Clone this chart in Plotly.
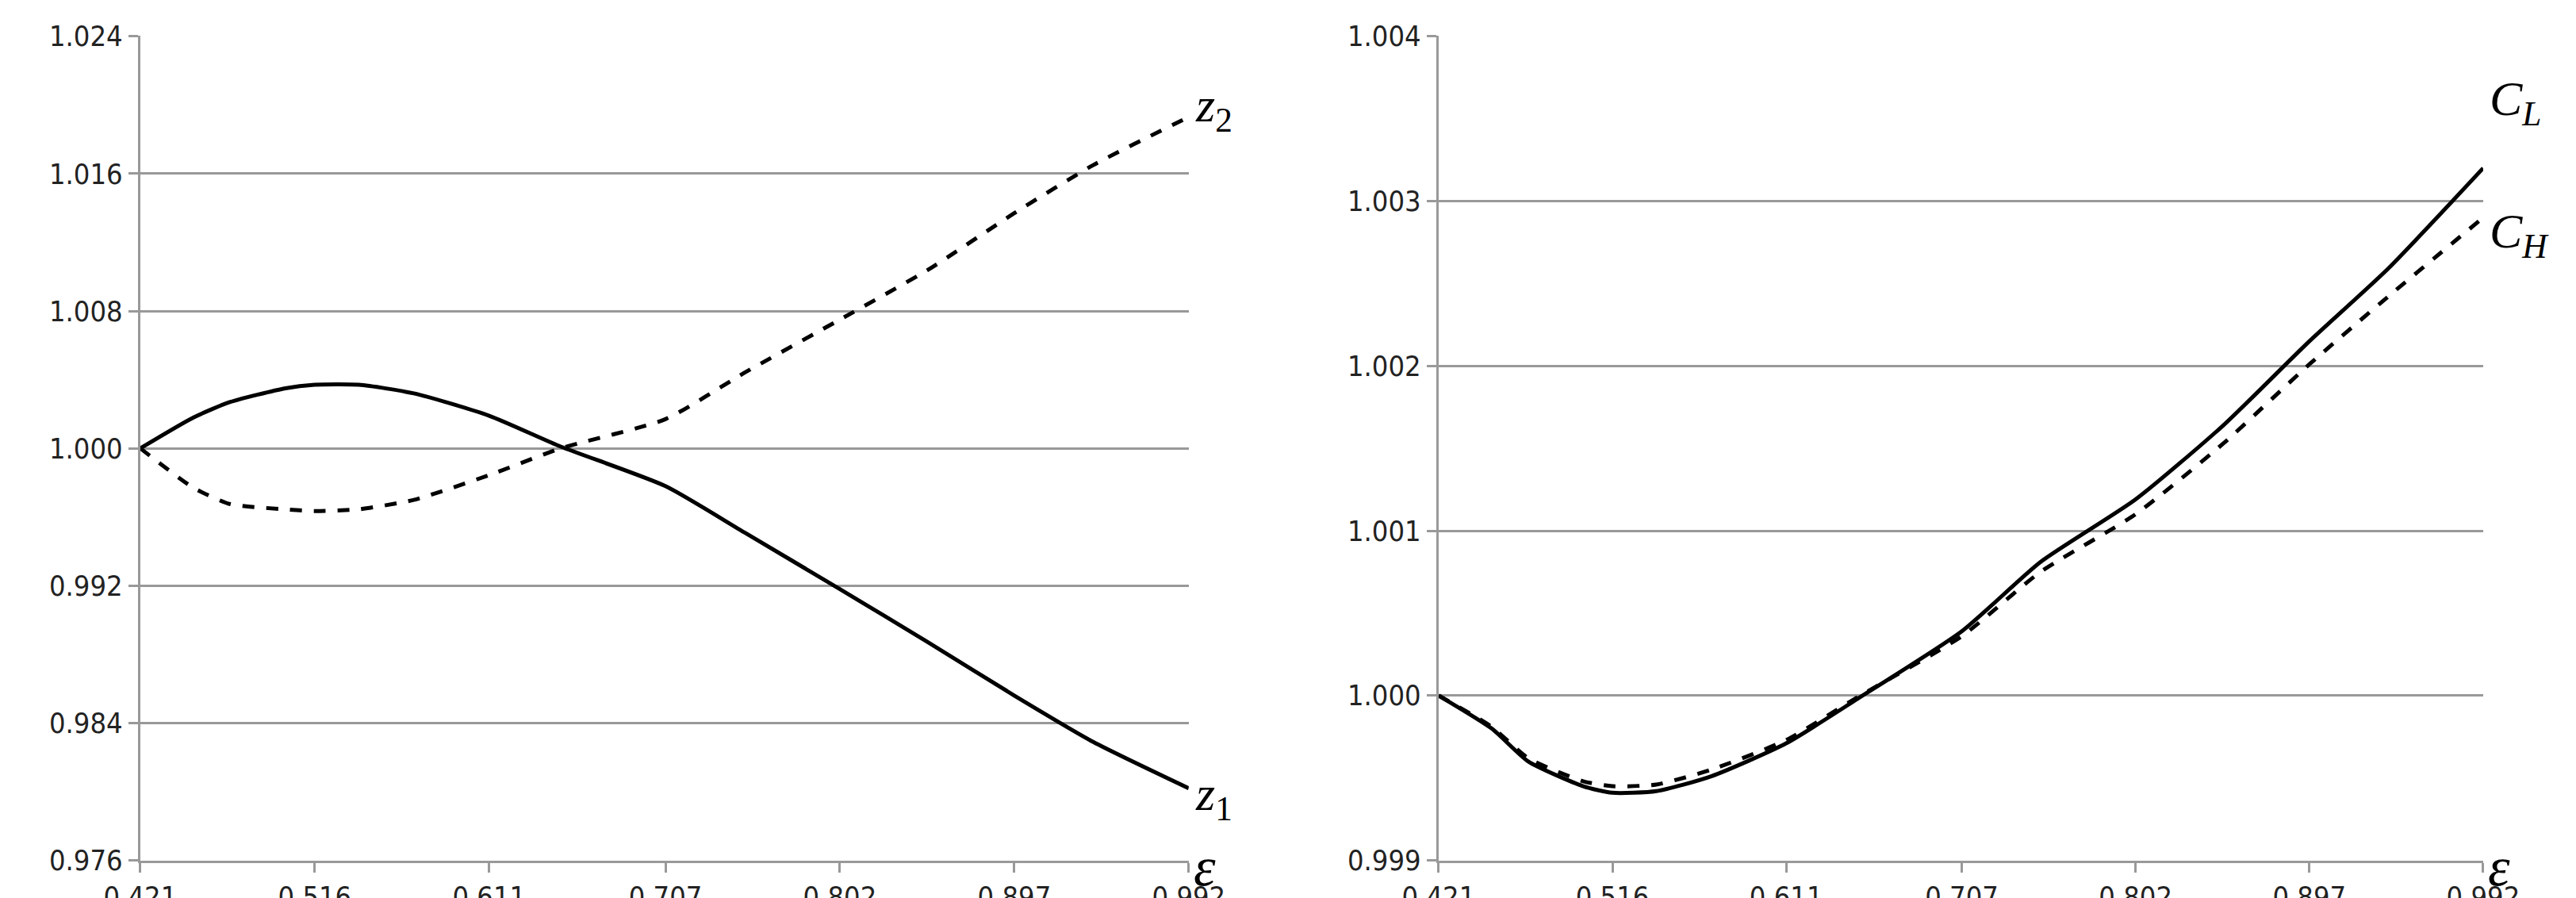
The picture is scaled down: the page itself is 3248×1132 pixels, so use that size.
import plotly.graph_objects as go

x = [0.421, 0.45, 0.47, 0.50, 0.516, 0.54, 0.57, 0.611, 0.65, 0.707, 0.75, 0.802, 0.85, 0.897, 0.94, 0.992]

z1 = [1.0, 1.0018, 1.0027, 1.0035, 1.0037, 1.0037, 1.0032, 1.0019, 1.0001, 0.9978, 0.9951, 0.9918, 0.9887, 0.9856, 0.9829, 0.9802]
z2 = [1.0, 0.9977, 0.99675, 0.99645, 0.99635, 0.99645, 0.9970, 0.99844, 1.0, 1.0017, 1.0044, 1.0075, 1.0104, 1.0137, 1.0165, 1.0193]

cl = [1.0, 0.99980, 0.99960, 0.99945, 0.99941, 0.99942, 0.99951, 0.99971, 0.99998, 1.00039, 1.00081, 1.00119, 1.00164, 1.00215, 1.00259, 1.0032]
ch = [1.0, 0.99981, 0.99962, 0.99948, 0.99945, 0.99946, 0.99955, 0.99973, 0.99999, 1.00036, 1.00075, 1.00110, 1.00153, 1.00201, 1.00242, 1.00290]

x_ticks = [0.421, 0.516, 0.611, 0.707, 0.802, 0.897, 0.992]
y_ticks_left = [0.976, 0.984, 0.992, 1.000, 1.008, 1.016, 1.024]
y_ticks_right = [0.999, 1.000, 1.001, 1.002, 1.003, 1.004]

fig = go.Figure()

def line(xs, ys, dash, xa, ya):
    fig.add_trace(go.Scatter(x=xs, y=ys, mode="lines", xaxis=xa, yaxis=ya,
                             line=dict(color="black", width=5, dash=dash,
                                       shape="spline", smoothing=0.6),
                             showlegend=False))

line(x, z1, "solid", "x", "y")
line(x, z2, "dash", "x", "y")
line(x, cl, "solid", "x2", "y2")
line(x, ch, "dash", "x2", "y2")

tick_font = dict(family="DejaVu Sans Condensed, Liberation Sans Narrow, sans-serif", size=36, color="#222")
axis_common = dict(showgrid=False, showline=True, linecolor="#999", linewidth=3,
                   ticks="outside", tickcolor="#999", tickwidth=3, ticklen=12,
                   tickfont=tick_font, zeroline=False, automargin=False)
yaxis_common = dict(showgrid=True, gridcolor="#999", gridwidth=3, showline=True,
                    linecolor="#999", linewidth=3, ticks="outside", tickcolor="#999",
                    tickwidth=3, ticklen=12, tickfont=tick_font, zeroline=False,
                    automargin=False)

fig.update_layout(
    width=3248, height=1132, margin=dict(l=0, r=0, t=0, b=0),
    paper_bgcolor="white", plot_bgcolor="white",
    xaxis=dict(domain=[0.052, 0.459], range=[0.421, 0.992], tickvals=x_ticks,
               ticktext=[f"{v:.3f}" for v in x_ticks], anchor="y", **axis_common),
    yaxis=dict(domain=[0.049, 0.967], range=[0.976, 1.02402], tickvals=y_ticks_left,
               ticktext=[f"{v:.3f}" for v in y_ticks_left], anchor="x", **yaxis_common),
    xaxis2=dict(domain=[0.556, 0.9615], range=[0.421, 0.992], tickvals=x_ticks,
                ticktext=[f"{v:.3f}" for v in x_ticks], anchor="y2", **axis_common),
    yaxis2=dict(domain=[0.049, 0.967], range=[0.999, 1.004002], tickvals=y_ticks_right,
                ticktext=[f"{v:.3f}" for v in y_ticks_right], anchor="x2", **yaxis_common),
)

lab_font = dict(family="Liberation Serif, serif", size=62, color="black")
labels = [
    ("x", "y", z1[-1] - 0.0005, "<i>z</i><sub>1</sub>"),
    ("x", "y", z2[-1] + 0.0005, "<i>z</i><sub>2</sub>"),
    ("x2", "y2", cl[-1] + 0.0004, "<i>C</i><sub><i>L</i></sub>"),
    ("x2", "y2", ch[-1] - 0.0001, "<i>C</i><sub><i>H</i></sub>"),
]
for xa, ya, yv, txt in labels:
    fig.add_annotation(x=0.992, y=yv, xref=xa, yref=ya, text=txt, showarrow=False,
                       xanchor="left", xshift=6, font=lab_font)
for xa, ya, yv in [("x", "y", 0.976), ("x2", "y2", 0.999)]:
    fig.add_annotation(x=0.992, y=yv, xref=xa, yref=ya, text="<i>ε</i>", showarrow=False,
                       xanchor="left", yanchor="middle", xshift=4, yshift=-8,
                       font=dict(family="Liberation Serif, serif", size=70, color="black"))

fig.write_html("out.html")
